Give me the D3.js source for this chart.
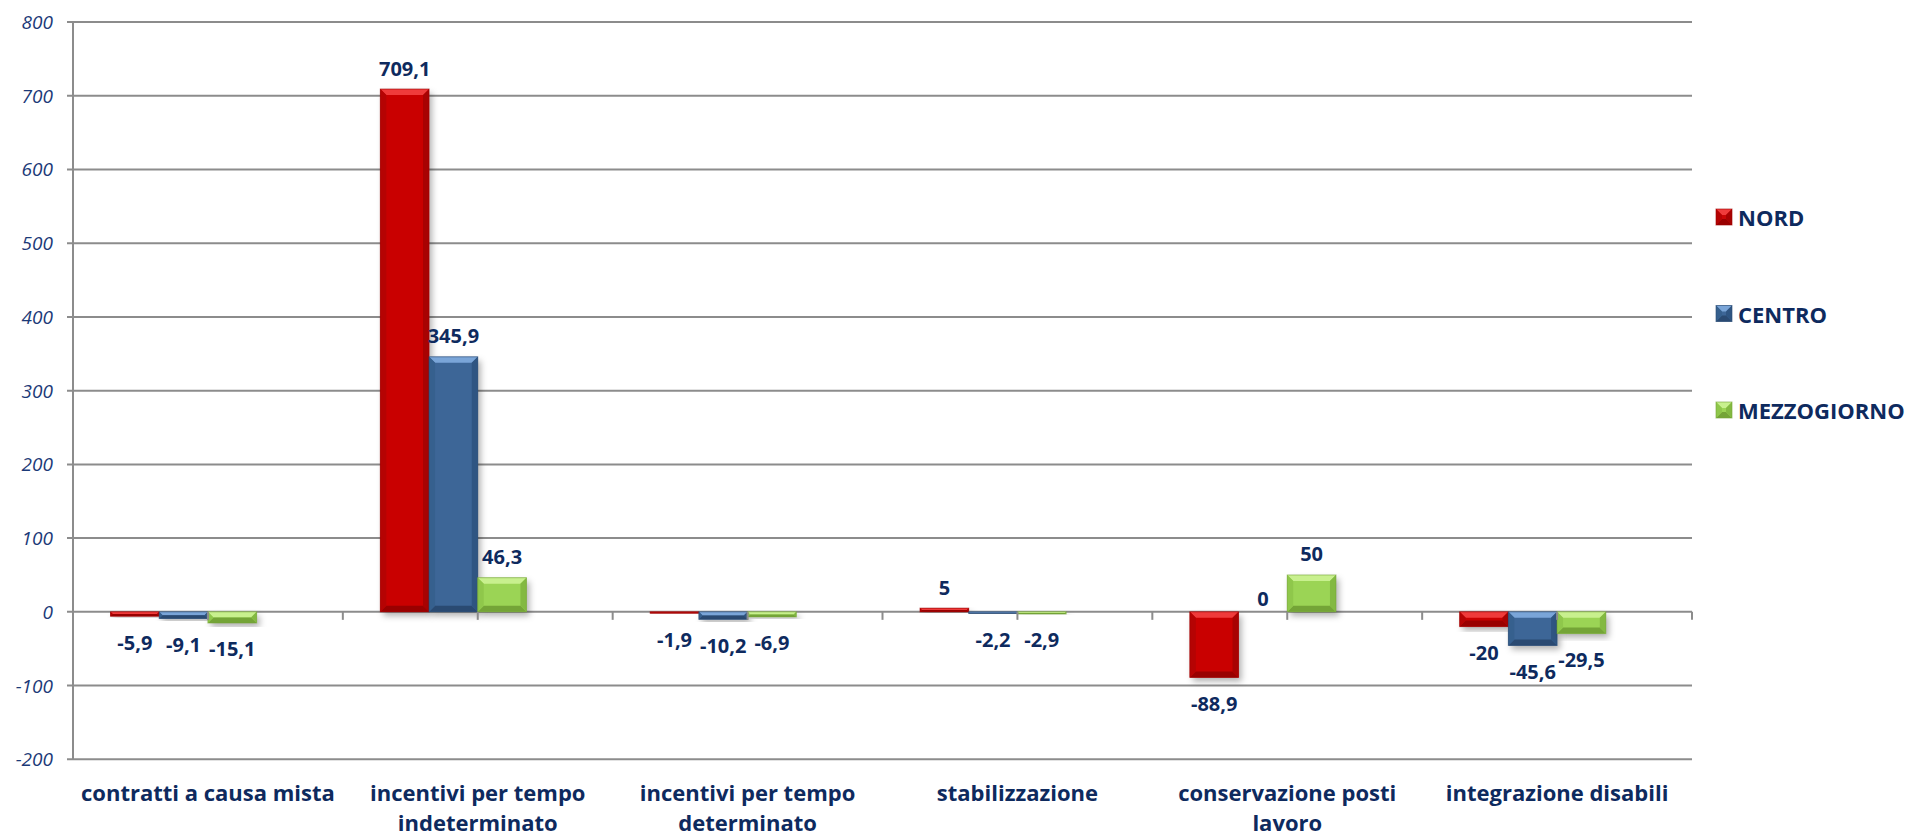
<!DOCTYPE html>
<html>
<head>
<meta charset="utf-8">
<script src="https://cdn.jsdelivr.net/npm/d3@7"></script>
<style>
  html, body { margin: 0; padding: 0; background: #ffffff; }
  svg { display: block; }
</style>
</head>
<body>
<svg id="chart" width="1912" height="836"></svg>
<script>
// ---------- data ----------
const categories = [
  "contratti a causa mista",
  "incentivi per tempo\nindeterminato",
  "incentivi per tempo\ndeterminato",
  "stabilizzazione",
  "conservazione posti\nlavoro",
  "integrazione disabili"
];
const seriesNames = ["NORD", "CENTRO", "MEZZOGIORNO"];
const nord        = [-5.9, 709.1, -1.9, 5, -88.9, -20];
const centro      = [-9.1, 345.9, -10.2, -2.2, 0, -45.6];
const mezzogiorno = [-15.1, 46.3, -6.9, -2.9, 50, -29.5];
const yTicks = [-200, -100, 0, 100, 200, 300, 400, 500, 600, 700, 800];

// ---------- style ----------
const palette = {
  NORD:        { base: "#c90505", top: "#ef3b3b", bottom: "#990000", left: "#b50303", right: "#a80202" },
  CENTRO:      { base: "#3d6697", top: "#7aa5d8", bottom: "#2a4a72", left: "#36608e", right: "#2f5582" },
  MEZZOGIORNO: { base: "#9bd454", top: "#c8f08e", bottom: "#74a437", left: "#8fc74b", right: "#83b942" }
};
const navy = "#0e2a5e";
const gridColor = "#8c8c8c";
const font = "'Open Sans', Lato, sans-serif";

const svg = d3.select("#chart");
const plot = { left: 73, right: 1692, top: 22, bottom: 759.3 };

const y = d3.scaleLinear().domain([-200, 800]).range([plot.bottom, plot.top]);
const x = d3.scaleBand().domain(categories).range([plot.left, plot.right]).padding(0);
// Excel-style: 4 slots (one empty series), 150% gap
const xs = d3.scaleBand().domain([...seriesNames, "_empty"]).range([0, x.bandwidth()])
  .paddingInner(0).paddingOuter(0.77);

const loc = d3.formatLocale({ decimal: ",", thousands: ".", grouping: [3], currency: ["", "€"], minus: "-" });
const fmt = loc.format("~f");

// defs: shadow
const defs = svg.append("defs");
const sh = defs.append("filter").attr("id", "shadow")
  .attr("x", "-20%").attr("y", "-20%").attr("width", "150%").attr("height", "150%");
sh.append("feDropShadow").attr("dx", 3).attr("dy", 4).attr("stdDeviation", 3)
  .attr("flood-color", "#000").attr("flood-opacity", 0.3);

// ---------- gridlines ----------
svg.append("g").selectAll("line").data(yTicks).join("line")
  .attr("x1", plot.left - 6).attr("x2", plot.right)
  .attr("y1", d => y(d)).attr("y2", d => y(d))
  .attr("stroke", gridColor).attr("stroke-width", 2);

// vertical axis
svg.append("line")
  .attr("x1", plot.left).attr("x2", plot.left)
  .attr("y1", plot.top).attr("y2", plot.bottom)
  .attr("stroke", gridColor).attr("stroke-width", 2);

// y tick labels
svg.append("g").selectAll("text").data(yTicks).join("text")
  .attr("x", plot.left - 20).attr("y", d => y(d))
  .attr("text-anchor", "end").attr("dominant-baseline", "central")
  .attr("font-family", font)
  .attr("font-style", "italic").attr("font-size", 19)
  .attr("fill", "#1c3a78")
  .text(d => d3.format("d")(d).replace("−", "-"));

// x ticks on zero line (category boundaries and midpoints)
const xTickPos = [];
categories.forEach(c => { xTickPos.push(x(c)); xTickPos.push(x(c) + x.bandwidth() / 2); });
xTickPos.push(plot.right);

// ---------- bars ----------
const seriesData = [nord, centro, mezzogiorno];
const bars = [];
seriesNames.forEach((s, si) => {
  categories.forEach((c, ci) => {
    bars.push({ series: s, cat: c, value: seriesData[si][ci] });
  });
});

function bevelBar(g, x0, y0, w, h, col, shadow) {
  const b = Math.max(0, Math.min(6, h / 2, w / 2));
  const r = g.append("rect").attr("x", x0).attr("y", y0).attr("width", w).attr("height", h)
    .attr("fill", col.base);
  if (shadow) r.attr("filter", "url(#shadow)");
  if (h < 0.5) return;
  const x1 = x0 + w, y1 = y0 + h;
  const poly = (pts, fill) => g.append("polygon")
    .attr("points", pts.map(p => p.join(",")).join(" ")).attr("fill", fill);
  poly([[x0, y0], [x1, y0], [x1 - b, y0 + b], [x0 + b, y0 + b]], col.top);
  poly([[x0, y1], [x1, y1], [x1 - b, y1 - b], [x0 + b, y1 - b]], col.bottom);
  poly([[x0, y0], [x0 + b, y0 + b], [x0 + b, y1 - b], [x0, y1]], col.left);
  poly([[x1, y0], [x1 - b, y0 + b], [x1 - b, y1 - b], [x1, y1]], col.right);
  g.append("rect").attr("x", x0).attr("y", y0).attr("width", w).attr("height", h)
    .attr("fill", "none").attr("stroke", col.bottom).attr("stroke-width", 1).attr("stroke-opacity", 0.6);
}

const barG = svg.append("g");
bars.forEach(d => {
  const x0 = x(d.cat) + xs(d.series);
  const yTop = y(Math.max(0, d.value));
  const yBot = y(Math.min(0, d.value));
  const g = barG.append("g");
  bevelBar(g, x0, yTop, xs.bandwidth(), yBot - yTop, palette[d.series], true);
});

// zero line ticks
svg.append("g").selectAll("line").data(xTickPos).join("line")
  .attr("x1", d => d).attr("x2", d => d)
  .attr("y1", y(0)).attr("y2", y(0) + 8)
  .attr("stroke", gridColor).attr("stroke-width", 2);

// ---------- data labels ----------
svg.append("g").selectAll("text").data(bars).join("text")
  .attr("x", d => x(d.cat) + xs(d.series) + xs.bandwidth() / 2)
  .attr("y", d => d.value > 0 ? y(d.value) - 21 : d.value < 0 ? y(d.value) + 26 : y(0) - 13)
  .attr("text-anchor", "middle").attr("dominant-baseline", "central")
  .attr("font-family", font)
  .attr("font-weight", "bold").attr("font-size", 20)
  .attr("fill", navy)
  .text(d => fmt(d.value));

// ---------- category labels ----------
const catG = svg.append("g");
categories.forEach(c => {
  const lines = c.split("\n");
  const t = catG.append("text")
    .attr("x", x(c) + x.bandwidth() / 2)
    .attr("text-anchor", "middle")
    .attr("font-family", font)
    .attr("font-weight", "bold").attr("font-size", 22)
    .attr("fill", navy);
  lines.forEach((l, i) => {
    t.append("tspan").attr("x", x(c) + x.bandwidth() / 2)
      .attr("y", 792 + i * 30).attr("dominant-baseline", "central").text(l);
  });
});

// ---------- legend ----------
const legendY = d3.scalePoint().domain(seriesNames).range([217, 410]);
const lg = svg.append("g");
seriesNames.forEach(s => {
  const cy = legendY(s);
  const g = lg.append("g");
  bevelBar(g, 1716, cy - 8, 16, 16, palette[s], false);
  lg.append("text").attr("x", 1738).attr("y", cy)
    .attr("dominant-baseline", "central")
    .attr("font-family", font)
    .attr("font-weight", "bold").attr("font-size", 22)
    .attr("fill", navy).text(s);
});
</script>
</body>
</html>
